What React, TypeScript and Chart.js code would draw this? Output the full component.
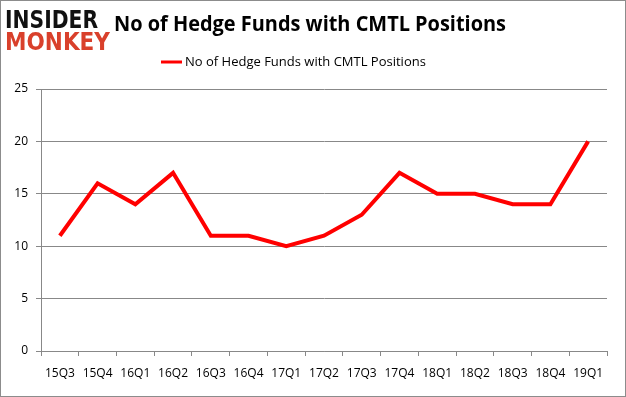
import React, { useEffect, useRef } from "react";
import { Chart, registerables } from "chart.js";

Chart.register(...registerables);

const categories = ["15Q3","15Q4","16Q1","16Q2","16Q3","16Q4","17Q1","17Q2","17Q3","17Q4","18Q1","18Q2","18Q3","18Q4","19Q1"];
const hedgeFunds = [11,16,14,17,11,11,10,11,13,17,15,15,14,14,20];
const seriesLabel = "No of Hedge Funds with CMTL Positions";
const chartTitle = "No of Hedge Funds with CMTL Positions";

const FONT = "'Open Sans', 'Noto Sans', sans-serif";

const decor = {
  id: "decor",
  afterDraw(chart: any) {
    const ctx = chart.ctx;
    ctx.save();
    // outer border
    ctx.strokeStyle = "#8c8c8c";
    ctx.lineWidth = 1;
    ctx.strokeRect(0.5, 0.5, chart.width - 1, chart.height - 1);
    // logo
    ctx.textBaseline = "alphabetic";
    ctx.textAlign = "left";
    ctx.font = "900 25px 'DejaVu Sans', sans-serif";
    ctx.fillStyle = "#111111";
    ctx.fillText("INSIDER", 5, 28, 93);
    ctx.fillStyle = "#d9402b";
    ctx.fillText("MONKEY", 5, 50, 105);
    // title
    ctx.fillStyle = "#000000";
    ctx.font = "bold 21px " + FONT;
    ctx.textAlign = "left";
    ctx.textBaseline = "middle";
    ctx.fillText(chartTitle, 114, 25, 392);
    // legend
    ctx.strokeStyle = "#ff0000";
    ctx.lineWidth = 3;
    ctx.beginPath();
    ctx.moveTo(161, 62);
    ctx.lineTo(182, 62);
    ctx.stroke();
    ctx.fillStyle = "#000000";
    ctx.font = "13px " + FONT;
    ctx.fillText(seriesLabel, 185, 62, 250);
    ctx.restore();
  },
};

export default function App() {
  const ref = useRef<HTMLCanvasElement | null>(null);
  useEffect(() => {
    document.body.style.margin = "0";
    const chart = new Chart(ref.current!, {
      type: "line",
      data: {
        labels: categories,
        datasets: [
          {
            label: seriesLabel,
            data: hedgeFunds,
            borderColor: "#ff0000",
            backgroundColor: "#ff0000",
            borderWidth: 4,
            pointRadius: 0,
            tension: 0,
          },
        ],
      },
      options: {
        responsive: false,
        animation: false,
        layout: { padding: { top: 89, right: 19, left: 0, bottom: 0 } },
        plugins: { legend: { display: false }, title: { display: false }, tooltip: { enabled: false } },
        scales: {
          x: {
            offset: true,
            grid: { display: true, drawOnChartArea: false, tickLength: 5, color: "#888888", offset: true },
            border: { display: true, color: "#888888" },
            ticks: { color: "#000000", font: { family: FONT, size: 12 }, padding: 10, maxRotation: 0, autoSkip: false },
            afterFit(scale: any) { scale.height = 46; },
          },
          y: {
            min: 0,
            max: 25,
            ticks: { stepSize: 5, color: "#000000", font: { family: FONT, size: 12 }, padding: 8 },
            grid: { color: "#888888", tickLength: 5 },
            border: { display: true, color: "#888888" },
            afterFit(scale: any) { scale.width = 41; },
          },
        },
      },
      plugins: [decor],
    });
    return () => chart.destroy();
  }, []);
  return <canvas ref={ref} width={626} height={397} style={{ display: "block" }} />;
}
